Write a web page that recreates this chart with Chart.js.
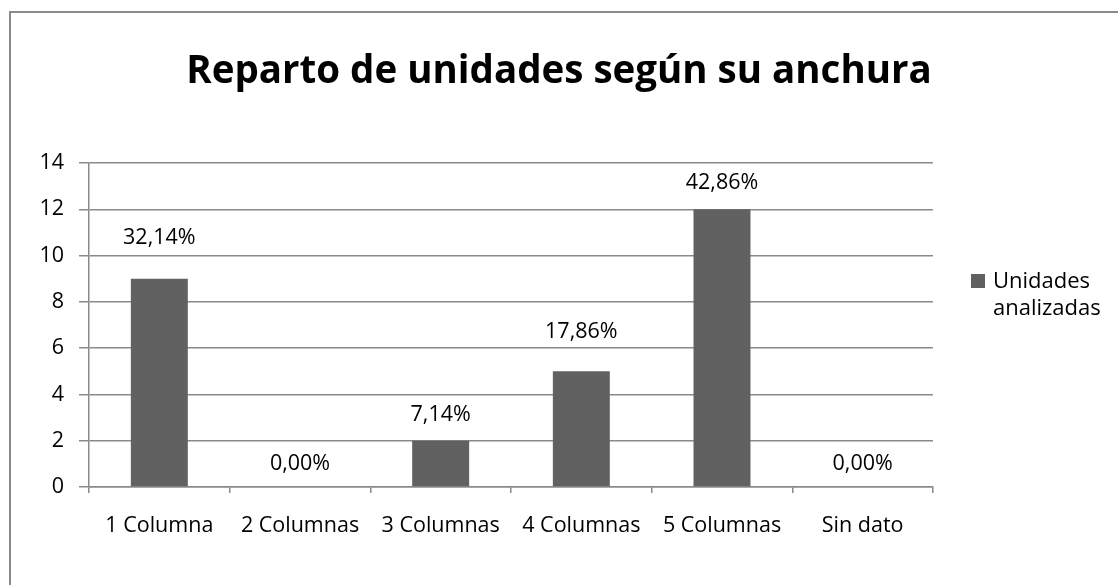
<!DOCTYPE html>
<html>
<head>
<meta charset="utf-8">
<script src="https://cdn.jsdelivr.net/npm/chart.js@4/dist/chart.umd.min.js"></script>
<style>
  html, body { margin: 0; padding: 0; background: #fff; }
  #wrap { width: 1118px; height: 585px; position: relative; }
</style>
</head>
<body>
<div id="wrap"><canvas id="chart"></canvas></div>
<script>
const categories = ['1 Columna', '2 Columnas', '3 Columnas', '4 Columnas', '5 Columnas', 'Sin dato'];
const unidades = [9, 0, 2, 5, 12, 0];
const seriesName = ['Unidades', 'analizadas'];
const titleText = 'Reparto de unidades según su anchura';

const FONT = "'Open Sans', 'Noto Sans', sans-serif";
const BAR = '#616161';
const GRID = '#8a8a8a';
// how far each percentage label sits above its bar (Excel placed them unevenly)
const labelLift = [41, 23, 26, 39, 26, 23];

const total = unidades.reduce((a, b) => a + b, 0);
const pctLabel = v => (v / total * 100).toFixed(2).replace('.', ',') + '%';

// frame, title, value labels and the two-line legend
const decorations = {
    id: 'decorations',
    beforeDraw(chart) {
        const ctx = chart.ctx;
        ctx.save();
        ctx.fillStyle = '#fff';
        ctx.fillRect(0, 0, chart.width, chart.height);
        ctx.strokeStyle = '#8a8a8a';
        ctx.lineWidth = 2;
        ctx.strokeRect(10, 12, chart.width + 20, chart.height + 20);
        ctx.restore();
    },
    afterDatasetsDraw(chart) {
        const ctx = chart.ctx;
        ctx.save();
        ctx.fillStyle = '#000';
        ctx.textAlign = 'center';
        ctx.textBaseline = 'middle';
        ctx.font = `bold 38.5px ${FONT}`;
        ctx.fillText(titleText, chart.width / 2, 72);

        ctx.font = `21.5px ${FONT}`;
        chart.getDatasetMeta(0).data.forEach((bar, i) => {
            ctx.fillText(pctLabel(unidades[i]), bar.x, bar.y - labelLift[i]);
        });

        ctx.fillStyle = BAR;
        ctx.fillRect(971, 274, 14, 14);
        ctx.fillStyle = '#000';
        ctx.textAlign = 'left';
        ctx.font = `22px ${FONT}`;
        ctx.fillText(seriesName[0], 993, 282);
        ctx.fillText(seriesName[1], 993, 309);
        ctx.restore();
    }
};

new Chart(document.getElementById('chart'), {
    type: 'bar',
    data: {
        labels: categories,
        datasets: [{
            label: seriesName.join(' '),
            data: unidades,
            backgroundColor: BAR,
            categoryPercentage: 1,
            barPercentage: 0.405
        }]
    },
    options: {
        responsive: true,
        maintainAspectRatio: false,
        animation: false,
        layout: { padding: { left: 9, right: 185, top: 163, bottom: 0 } },
        plugins: {
            legend: { display: false },
            title: { display: false },
            tooltip: { enabled: false }
        },
        scales: {
            x: {
                grid: {
                    offset: true,
                    drawOnChartArea: false,
                    drawTicks: true,
                    tickLength: 6,
                    color: GRID,
                    lineWidth: 1.5
                },
                border: { color: GRID, width: 1.5 },
                ticks: {
                    color: '#000',
                    padding: 20,
                    maxRotation: 0,
                    autoSkip: false,
                    font: { family: FONT, size: 21.5 }
                },
                afterFit(scale) { scale.height = 98; }
            },
            y: {
                min: 0,
                max: 14,
                ticks: {
                    stepSize: 2,
                    color: '#000',
                    padding: 15,
                    font: { family: FONT, size: 21.5 }
                },
                grid: {
                    color: GRID,
                    lineWidth: 1.5,
                    tickLength: 10
                },
                border: { color: GRID, width: 1.5 },
                afterFit(scale) { scale.width = 80; }
            }
        }
    },
    plugins: [decorations]
});
</script>
</body>
</html>
